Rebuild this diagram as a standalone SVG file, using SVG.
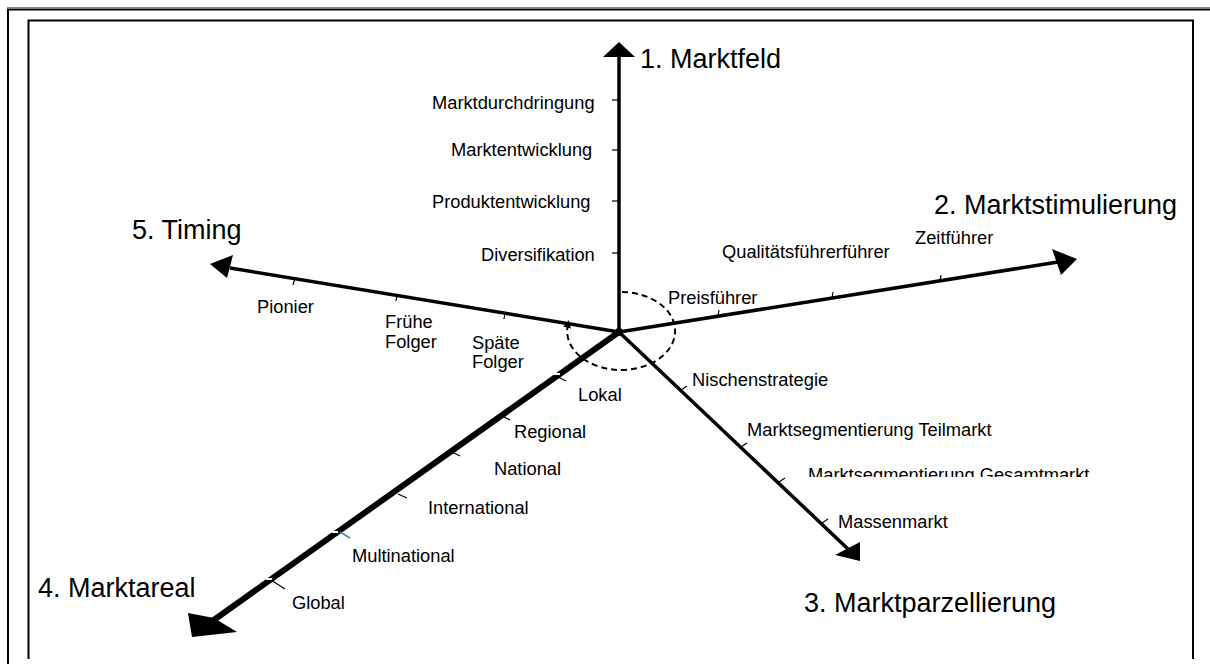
<svg xmlns="http://www.w3.org/2000/svg" width="1210" height="664" viewBox="0 0 1210 664">
  <style>
    .axis { stroke: #000; stroke-width: 3.5; fill: none; stroke-linecap: butt; }
    .axis-thick { stroke: #000; stroke-width: 6; fill: none; }
    .tick { stroke: #000; stroke-width: 1.2; fill: none; }
    .head { fill: #000; }
    .title { font-family: "Liberation Sans", Arial, sans-serif; font-size: 27px; fill: #000; }
    .lbl { font-family: "Liberation Sans", Arial, sans-serif; font-size: 18.3px; fill: #000; }
    .frame { stroke: #000; stroke-width: 2; fill: none; }
  </style>
  <defs>
    <marker id="cycle-head" viewBox="0 0 10 10" refX="5" refY="5" markerWidth="4" markerHeight="4" orient="auto">
      <path d="M0,0 L10,5 L0,10 z" fill="#000"/>
    </marker>
    <clipPath id="clip-gesamt">
      <rect x="700" y="440" width="460" height="37"/>
    </clipPath>
  </defs>

  <rect width="1210" height="664" fill="#fff"/>

  <!-- page frames -->
  <g id="frames">
    <line x1="7" y1="7.5" x2="1210" y2="7.5" stroke="#888" stroke-width="1"/>
    <line x1="7" y1="9.5" x2="1210" y2="9.5" stroke="#000" stroke-width="2"/>
    <line x1="8" y1="9" x2="8" y2="664" stroke="#000" stroke-width="2"/>
    <polyline class="frame" points="28.5,659 28.5,20.5 1193,20.5 1193,659" stroke-width="1.5"/>
  </g>

  <!-- axes with arrowheads -->
  <g id="connectors">
    <line class="axis" x1="619" y1="332" x2="619" y2="55"/>
    <polygon class="head" points="619,42 603,57 635,57"/>

    <line class="axis" x1="619" y1="332" x2="1058" y2="262"/>
    <polygon class="head" points="1077,259 1052,249 1061,275"/>

    <line class="axis" x1="619" y1="332" x2="848" y2="549"/>
    <polygon class="head" points="860,561 835,555 860,542"/>

    <line class="axis-thick" x1="619" y1="332" x2="211" y2="622"/>
    <polygon class="head" points="188,613 192,637 237,632 214,618"/>

    <line class="axis" x1="619" y1="332" x2="230" y2="268"/>
    <polygon class="head" points="210,264 233,255 227,278"/>

    <circle cx="619" cy="332" r="4" fill="#000"/>

    <!-- dashed cycle around the origin -->
    <path d="M 622 292 A 54 39 0 1 1 568 324" fill="none" stroke="#000" stroke-width="2" stroke-dasharray="6 4" marker-end="url(#cycle-head)"/>
  </g>

  <!-- tick marks -->
  <g id="ticks">
    <line class="tick" x1="612" y1="100" x2="619" y2="100"/>
    <line class="tick" x1="612" y1="150" x2="619" y2="150"/>
    <line class="tick" x1="612" y1="201" x2="619" y2="201"/>
    <line class="tick" x1="612" y1="253" x2="619" y2="253"/>

    <line class="tick" x1="718" y1="316" x2="719" y2="310"/>
    <line class="tick" x1="832" y1="298" x2="833" y2="292"/>
    <line class="tick" x1="940" y1="281" x2="941" y2="275"/>

    <line class="tick" x1="681" y1="390" x2="687" y2="386"/>
    <line class="tick" x1="741" y1="447" x2="747" y2="443"/>
    <line class="tick" x1="779" y1="482" x2="785" y2="478"/>
    <line class="tick" x1="822" y1="523" x2="828" y2="519"/>

    <line class="tick" x1="505" y1="313" x2="504" y2="319"/>
    <line class="tick" x1="397" y1="295" x2="396" y2="301"/>
    <line class="tick" x1="295" y1="278" x2="293" y2="285"/>

    <line stroke="#fff" stroke-width="2" x1="553" y1="374" x2="560" y2="374"/>
    <line class="tick" x1="558" y1="377" x2="566" y2="381"/>
    <line class="tick" x1="502" y1="416" x2="510" y2="420"/>
    <line class="tick" x1="452" y1="452" x2="460" y2="456"/>
    <line class="tick" x1="398" y1="494" x2="407" y2="498"/>
    <line stroke="#fff" stroke-width="2" x1="332" y1="532" x2="338" y2="532"/>
    <line stroke="#4a7fc0" stroke-width="1.5" x1="340" y1="532" x2="350" y2="538"/>
    <line stroke="#fff" stroke-width="2" x1="266" y1="579" x2="272" y2="579"/>
    <line class="tick" x1="271" y1="580" x2="285" y2="589"/>
  </g>

  <!-- axis titles -->
  <g id="axis-1"><text class="title" x="640" y="68">1. Marktfeld</text></g>
  <g id="axis-2"><text class="title" x="934" y="214">2. Marktstimulierung</text></g>
  <g id="axis-3"><text class="title" x="804" y="612">3. Marktparzellierung</text></g>
  <g id="axis-4"><text class="title" x="38" y="597">4. Marktareal</text></g>
  <g id="axis-5"><text class="title" x="132" y="239">5. Timing</text></g>

  <!-- Marktfeld options -->
  <g id="marktfeld-labels">
    <text class="lbl" x="432" y="109">Marktdurchdringung</text>
    <text class="lbl" x="451" y="156">Marktentwicklung</text>
    <text class="lbl" x="432" y="208">Produktentwicklung</text>
    <text class="lbl" x="481" y="261">Diversifikation</text>
  </g>

  <!-- Marktstimulierung options -->
  <g id="stimulierung-labels">
    <text class="lbl" x="668" y="304">Preisführer</text>
    <text class="lbl" x="722" y="258">Qualitätsführerführer</text>
    <text class="lbl" x="915" y="244">Zeitführer</text>
  </g>

  <!-- Marktparzellierung options -->
  <g id="parzellierung-labels">
    <text class="lbl" x="692" y="386">Nischenstrategie</text>
    <text class="lbl" x="747" y="436">Marktsegmentierung Teilmarkt</text>
    <text class="lbl" x="808" y="481" clip-path="url(#clip-gesamt)">Marktsegmentierung Gesamtmarkt</text>
    <text class="lbl" x="838" y="528">Massenmarkt</text>
  </g>

  <!-- Marktareal options -->
  <g id="areal-labels">
    <text class="lbl" x="578" y="401">Lokal</text>
    <text class="lbl" x="514" y="438">Regional</text>
    <text class="lbl" x="494" y="475">National</text>
    <text class="lbl" x="428" y="514">International</text>
    <text class="lbl" x="352" y="562">Multinational</text>
    <text class="lbl" x="292" y="609">Global</text>
  </g>

  <!-- Timing options -->
  <g id="timing-labels">
    <text class="lbl" x="257" y="313">Pionier</text>
    <text class="lbl" x="385" y="328">Frühe</text>
    <text class="lbl" x="385" y="348">Folger</text>
    <text class="lbl" x="472" y="349">Späte</text>
    <text class="lbl" x="472" y="368">Folger</text>
  </g>
</svg>
